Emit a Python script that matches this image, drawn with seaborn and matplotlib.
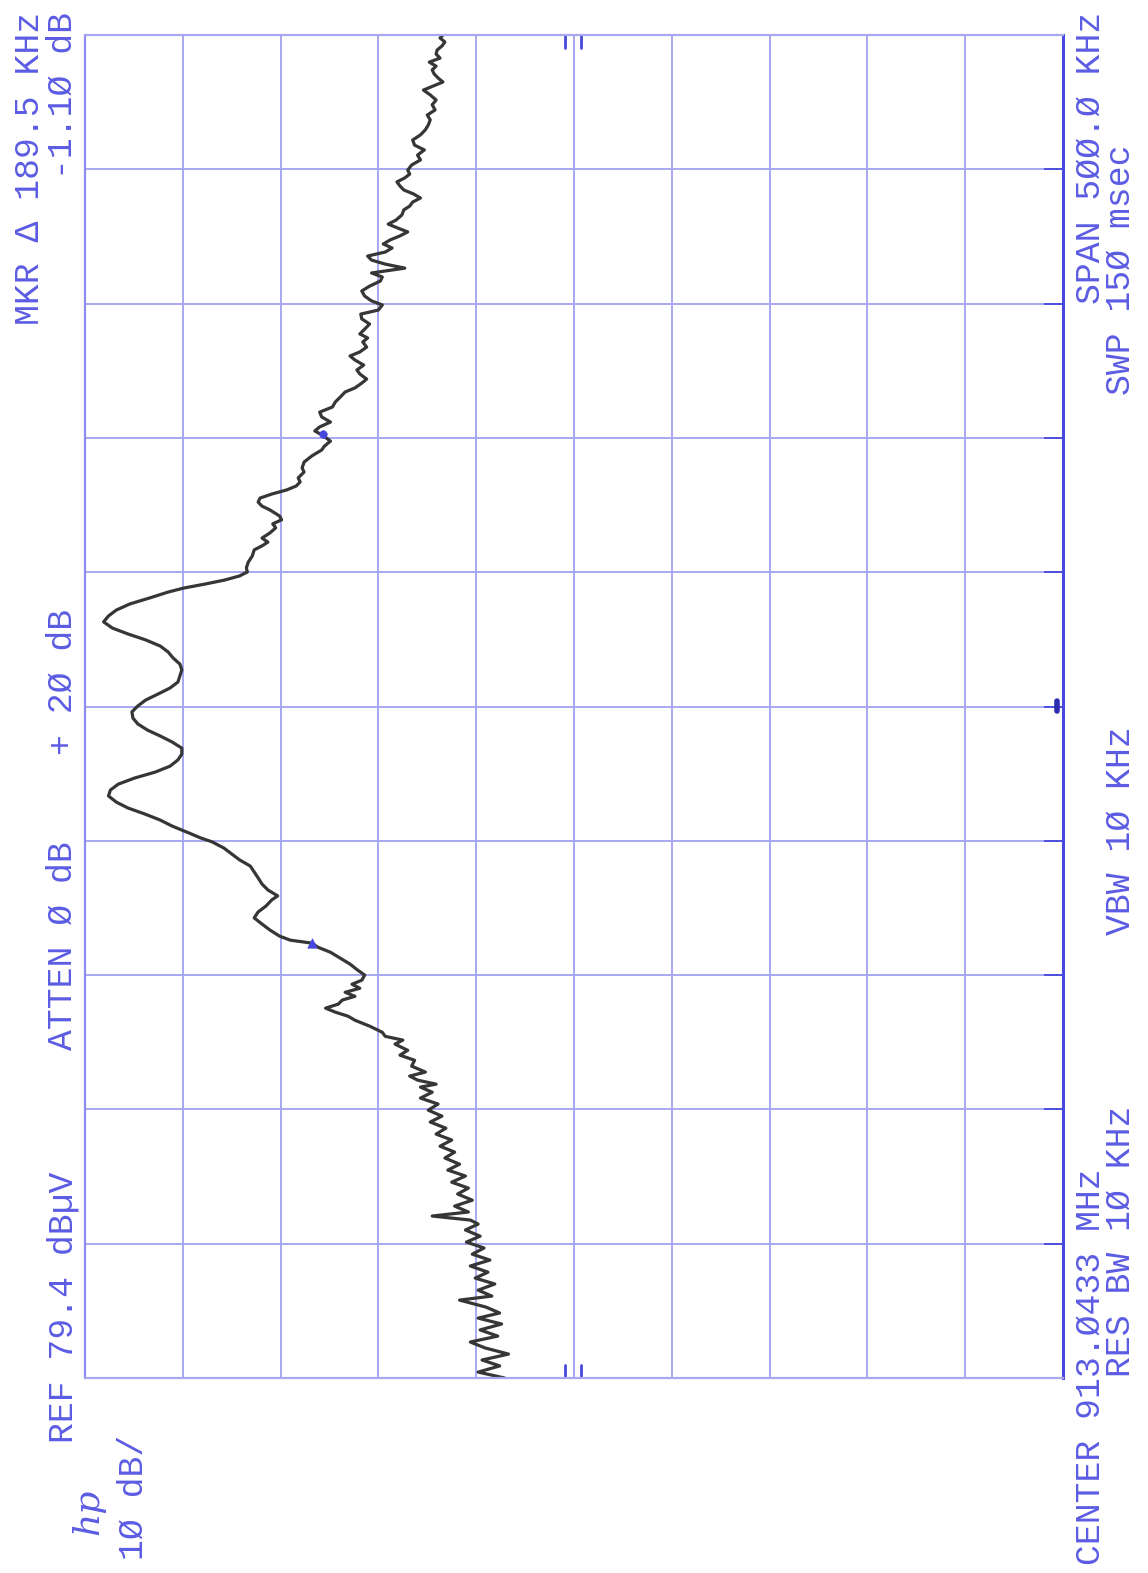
import numpy as np
import pandas as pd
import matplotlib.pyplot as plt
import seaborn as sns

# HP spectrum analyser plot, printed sideways: sweep runs bottom -> top,
# level runs left (REF) -> right (REF - 100 dB)
ref_level = 79.4      # dBuV, left edge of the grid
db_per_div = 10
span_khz = 500.0      # centre 913.0433 MHz

# trace (kHz from centre, dBuV)
offset_khz = [
    -250.0, -247.8, -245.5, -243.3, -241.1, -238.8, -236.6, -234.4, -232.1, -229.9,
    -227.7, -225.8, -223.6, -221.0, -219.5, -217.3, -215.0, -212.8, -210.6, -208.3,
    -206.1, -203.9, -201.6, -199.4, -197.2, -194.9, -192.7, -191.2, -189.7, -188.2,
    -186.0, -183.8, -181.5, -179.3, -177.1, -174.8, -172.6, -170.4, -168.1, -165.9,
    -163.7, -161.4, -159.2, -157.0, -154.7, -152.5, -150.3, -148.0, -145.8, -143.6,
    -141.7, -140.6, -139.1, -137.6, -136.1, -133.9, -131.7, -129.8, -128.0, -125.7,
    -124.2, -122.8, -121.3, -119.0, -116.8, -115.3, -113.8, -112.3, -110.8, -109.3,
    -107.9, -106.4, -104.9, -103.4, -101.9, -100.0, -98.2, -95.9, -93.7, -91.5,
    -89.6, -88.1, -87.0, -85.5, -83.2, -81.0, -78.7, -76.5, -74.3, -72.0,
    -70.5, -68.3, -66.1, -63.8, -61.6, -59.4, -57.1, -54.9, -52.7, -50.4,
    -48.9, -47.5, -46.0, -44.5, -42.3, -40.0, -37.8, -35.6, -33.3, -31.1,
    -28.9, -26.6, -24.4, -22.2, -19.9, -17.7, -15.5, -13.2, -11.0, -8.8,
    -6.5, -4.3, -2.0, 0.2, 2.4, 4.7, 6.9, 9.1, 11.4, 13.6,
    15.8, 18.1, 20.3, 22.5, 24.8, 27.0, 29.2, 31.5, 33.7, 35.9,
    38.2, 40.4, 42.6, 44.1, 45.6, 47.1, 48.6, 50.1, 51.6, 53.8,
    56.0, 58.3, 59.8, 61.2, 62.7, 64.6, 66.5, 68.0, 69.5, 70.9,
    73.2, 74.6, 76.1, 77.6, 79.1, 80.6, 82.1, 83.6, 85.1, 87.3,
    88.8, 91.0, 93.3, 95.5, 97.0, 98.8, 100.7, 102.6, 104.1, 105.9,
    107.8, 109.6, 111.5, 113.4, 115.2, 117.1, 118.6, 120.4, 121.9, 123.8,
    125.3, 127.1, 129.0, 130.5, 132.0, 133.8, 135.7, 137.2, 138.7, 140.5,
    142.4, 144.3, 146.1, 147.6, 149.5, 151.0, 152.8, 154.7, 156.5, 158.4,
    159.9, 161.4, 163.2, 164.7, 166.2, 167.7, 169.2, 170.7, 172.2, 173.7,
    175.2, 176.7, 178.1, 179.6, 181.1, 183.0, 184.9, 186.3, 187.8, 189.3,
    190.8, 192.3, 193.8, 195.3, 196.8, 198.2, 199.7, 201.6, 203.5, 205.3,
    207.2, 209.0, 210.9, 212.8, 214.7, 216.5, 218.4, 220.2, 222.1, 224.0,
    225.8, 227.7, 229.5, 231.0, 232.5, 234.0, 235.5, 237.0, 238.4, 239.9,
    241.4, 242.9, 244.4, 245.9, 247.4, 248.9, 250.0,
]
level_dbuv = [
    36.5, 39.2, 37.0, 38.8, 36.1, 38.5, 40.0, 37.2, 39.0, 36.8,
    39.2, 37.0, 38.4, 41.1, 37.8, 39.2, 37.5, 39.5, 38.2, 40.0,
    38.0, 39.8, 38.6, 40.4, 39.0, 40.5, 39.2, 40.0, 43.9, 40.2,
    41.6, 39.8, 41.3, 40.2, 41.9, 40.5, 42.3, 41.1, 42.6, 41.6,
    43.1, 41.9, 43.5, 42.5, 44.1, 42.9, 44.3, 43.3, 45.1, 43.9,
    45.1, 43.5, 45.4, 46.2, 44.6, 46.0, 45.7, 47.2, 46.4, 47.7,
    46.9, 48.7, 49.0, 50.3, 51.8, 52.5, 53.8, 54.8, 53.5, 53.1,
    51.8, 52.8, 51.3, 52.1, 51.1, 50.8, 51.5, 52.3, 53.3, 54.3,
    55.6, 56.2, 58.4, 59.5, 60.5, 61.3, 62.1, 61.7, 60.9, 60.3,
    59.7, 60.7, 61.3, 61.7, 62.1, 62.5, 63.6, 64.4, 65.2, 66.4,
    67.6, 68.5, 69.5, 70.5, 71.7, 73.3, 75.0, 76.2, 77.0, 76.8,
    76.0, 74.3, 72.2, 70.7, 69.9, 69.5, 69.5, 70.5, 71.7, 73.0,
    74.0, 74.5, 74.6, 74.0, 73.2, 71.9, 70.7, 69.9, 69.7, 69.5,
    69.7, 70.4, 70.9, 71.7, 73.2, 75.0, 76.6, 77.5, 77.0, 76.2,
    74.8, 72.8, 70.9, 69.3, 67.1, 65.1, 63.6, 62.8, 62.9, 62.7,
    62.3, 62.1, 61.3, 60.7, 61.3, 60.5, 59.9, 60.2, 59.3, 59.5,
    60.5, 61.3, 61.7, 61.5, 60.3, 58.8, 57.8, 57.4, 57.6, 57.0,
    57.2, 57.0, 56.2, 55.2, 54.9, 54.3, 55.0, 55.9, 55.4, 54.3,
    55.2, 55.4, 54.1, 53.8, 53.3, 52.8, 51.8, 51.1, 50.6, 51.3,
    51.6, 50.9, 51.8, 52.3, 51.3, 50.6, 51.0, 50.5, 51.3, 50.8,
    50.3, 51.1, 51.2, 49.4, 49.0, 50.1, 50.8, 51.1, 50.3, 49.2,
    49.0, 50.1, 46.7, 48.7, 50.1, 50.5, 48.7, 48.0, 48.9, 48.2,
    47.2, 46.4, 47.4, 48.4, 47.6, 47.0, 46.8, 46.2, 45.9, 45.1,
    45.8, 46.8, 47.2, 47.5, 46.7, 46.2, 46.4, 46.0, 45.1, 45.4,
    44.7, 45.7, 45.9, 45.1, 44.6, 44.3, 44.1, 44.4, 43.6, 43.9,
    43.5, 44.1, 44.8, 43.8, 42.8, 43.3, 43.7, 43.9, 43.5, 44.2,
    43.1, 43.5, 43.4, 42.9, 42.6, 43.1, 42.8,
]

# marker and delta marker
mkr_khz = [-88.1, 101.4]
mkr_dbuv = [56.2, 55.1]

BLUE_TEXT = "#5c5ce4"
GRID_BLUE = "#a8a8f2"
FRAME_BLUE = "#4848de"
TRACE = "#363636"

sns.set_theme(style="white")
plt.rcParams['font.family'] = ['Liberation Mono', 'DejaVu Sans Mono', 'DejaVu Sans']

W, H = 1148, 1573
fig = plt.figure(figsize=(W / 100, H / 100), dpi=100)
fig.patch.set_facecolor("white")
ax = fig.add_axes([85 / W, 1 - 1378 / H, 978 / W, 1343 / H])

df = pd.DataFrame({"offset_khz": offset_khz, "level_dbuv": level_dbuv})
sns.lineplot(data=df, x="level_dbuv", y="offset_khz", orient="y", estimator=None,
             sort=True, color=TRACE, lw=2.3, ax=ax)
sns.scatterplot(x=mkr_dbuv[:1], y=mkr_khz[:1], marker="^", s=45, color=FRAME_BLUE,
                edgecolor=FRAME_BLUE, zorder=5, ax=ax)
sns.scatterplot(x=mkr_dbuv[1:], y=mkr_khz[1:], marker="o", s=30, color=FRAME_BLUE,
                edgecolor=FRAME_BLUE, zorder=5, ax=ax)

x_lo = ref_level - 10 * db_per_div
ax.set_xlim(ref_level, x_lo)
ax.set_ylim(-span_khz / 2, span_khz / 2)
ax.set_xticks(ref_level - db_per_div * np.arange(11))
ax.set_yticks(np.linspace(-span_khz / 2, span_khz / 2, 11))
ax.grid(True, color=GRID_BLUE, lw=1.4)
ax.set_xlabel("")
ax.set_ylabel("")
ax.tick_params(axis="x", bottom=False, top=False, labelbottom=False)
ax.tick_params(axis="y", left=False, right=True, direction="in", length=14,
               width=1.3, color=FRAME_BLUE, labelleft=False, labelright=False)
for side in ["top", "bottom", "left"]:
    ax.spines[side].set_color(GRID_BLUE)
    ax.spines[side].set_linewidth(1.6)
ax.spines["left"].set_color("#8c8cee")
ax.spines["right"].set_color(FRAME_BLUE)
ax.spines["right"].set_linewidth(2.2)

# display-line ticks at the middle column, top and bottom
mid = ref_level - 5 * db_per_div
for dx in (-0.7, 0.9):
    ax.plot([mid + dx, mid + dx], [span_khz / 2 - 5, span_khz / 2], color=FRAME_BLUE, lw=2)
    ax.plot([mid + dx, mid + dx], [-span_khz / 2, -span_khz / 2 + 5], color=FRAME_BLUE, lw=2)
ax.plot([x_lo + 0.6, x_lo + 0.6], [-1.5, 2.0], color="#2c2cb0", lw=4)


def label(x, y, s, va="bottom", **kw):
    fig.text(x / W, 1 - y / H, s, rotation=90, ha="center", va=va,
             color=BLUE_TEXT, fontsize=25, **kw)


# left side
label(30, 12, "MKR Δ 189.5 KHz", va="top")
label(62, 12, "-1.1Ø dB", va="top")
label(62, 755, "+ 2Ø dB")
label(62, 1050, "ATTEN Ø dB")
label(63, 1443, "REF 79.4 dBµV")
label(133, 1560, "1Ø dB/")
fig.text(88 / W, 1 - 1535 / H, "hp", rotation=90, ha="center", va="bottom",
         color=BLUE_TEXT, fontsize=26, style="italic", family="DejaVu Serif")

# right side
label(1090, 12, "SPAN 5ØØ.Ø KHz", va="top")
label(1120, 395, "SWP 15Ø msec")
label(1120, 935, "VBW 1Ø KHz")
label(1120, 1377, "RES BW 1Ø KHz")
label(1090, 1565, "CENTER 913.Ø433 MHz")

fig.savefig("out.png", dpi=100, facecolor="white")
